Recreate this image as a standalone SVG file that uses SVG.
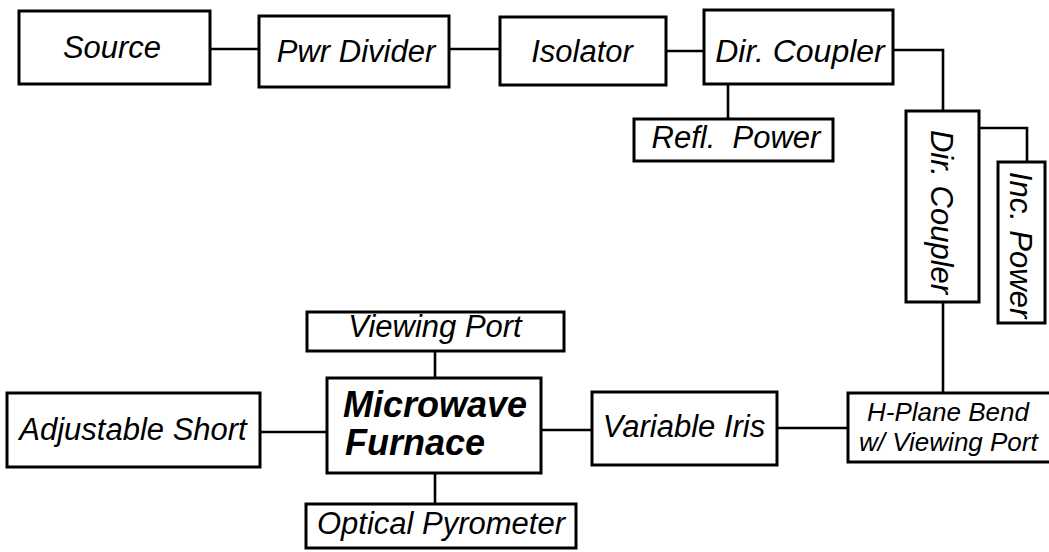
<svg xmlns="http://www.w3.org/2000/svg" width="1049" height="552" viewBox="0 0 1049 552">
<style>
.box{fill:#fff;stroke:#000;stroke-width:3}
.ln{fill:none;stroke:#000;stroke-width:2.6}
text{font-family:"Liberation Sans",Arial,sans-serif;font-style:italic;font-size:31px;fill:#000}
.c{text-anchor:middle}
.b{font-weight:bold;font-size:36px}
.s{font-size:26px}
</style>
<rect width="1049" height="552" fill="#fff"/>
<g id="connectors">
<line class="ln" x1="210" y1="49" x2="259" y2="49"/>
<line class="ln" x1="449" y1="49" x2="500" y2="49"/>
<line class="ln" x1="666" y1="51" x2="704" y2="51"/>
<polyline class="ln" points="893,50 943,50 943,111"/>
<line class="ln" x1="728" y1="84" x2="728" y2="119"/>
<polyline class="ln" points="979,128 1027,128 1027,162"/>
<line class="ln" x1="943" y1="302" x2="943" y2="393"/>
<line class="ln" x1="777" y1="428" x2="848" y2="428"/>
<line class="ln" x1="541" y1="430" x2="592" y2="430"/>
<line class="ln" x1="260" y1="432" x2="327" y2="432"/>
<line class="ln" x1="435" y1="351" x2="435" y2="378"/>
<line class="ln" x1="435" y1="473" x2="435" y2="504"/>
</g>
<g id="source"><rect class="box" x="19" y="11" width="191" height="73"/><text class="c" x="112" y="58">Source</text></g>
<g id="pwr-divider"><rect class="box" x="259" y="16" width="190" height="71"/><text class="c" x="356" y="62">Pwr Divider</text></g>
<g id="isolator"><rect class="box" x="500" y="17" width="166" height="68"/><text class="c" x="582" y="62">Isolator</text></g>
<g id="dir-coupler-1"><rect class="box" x="704" y="10" width="189" height="74"/><text class="c" x="800" y="62" style="font-size:32px">Dir. Coupler</text></g>
<g id="refl-power"><rect class="box" x="634" y="119" width="199" height="42"/><text class="c" x="736" y="148">Refl.&#160; Power</text></g>
<g id="dir-coupler-2"><rect class="box" x="906" y="111" width="73" height="191"/><text class="c" transform="translate(931,212) rotate(90)">Dir. Coupler</text></g>
<g id="inc-power"><rect class="box" x="998" y="162" width="47" height="161"/><text class="c" transform="translate(1010,245) rotate(90)">Inc. Power</text></g>
<g id="h-plane-bend"><rect class="box" x="848" y="393" width="220" height="69"/><text class="s" x="867" y="421">H-Plane Bend</text><text class="s" x="859" y="451">w/ Viewing Port</text></g>
<g id="variable-iris"><rect class="box" x="592" y="392" width="185" height="73"/><text class="c" x="684" y="437">Variable Iris</text></g>
<g id="microwave-furnace"><rect class="box" x="327" y="378" width="214" height="95"/><text class="b" x="343" y="417">Microwave</text><text class="b" x="345" y="455">Furnace</text></g>
<g id="adjustable-short"><rect class="box" x="7" y="393" width="253" height="74"/><text class="c" x="133" y="440">Adjustable Short</text></g>
<g id="viewing-port"><rect class="box" x="307" y="312" width="257" height="39"/><text class="c" x="435" y="337">Viewing Port</text></g>
<g id="optical-pyrometer"><rect class="box" x="306" y="504" width="270" height="44"/><text class="c" x="441" y="534">Optical Pyrometer</text></g>
</svg>
